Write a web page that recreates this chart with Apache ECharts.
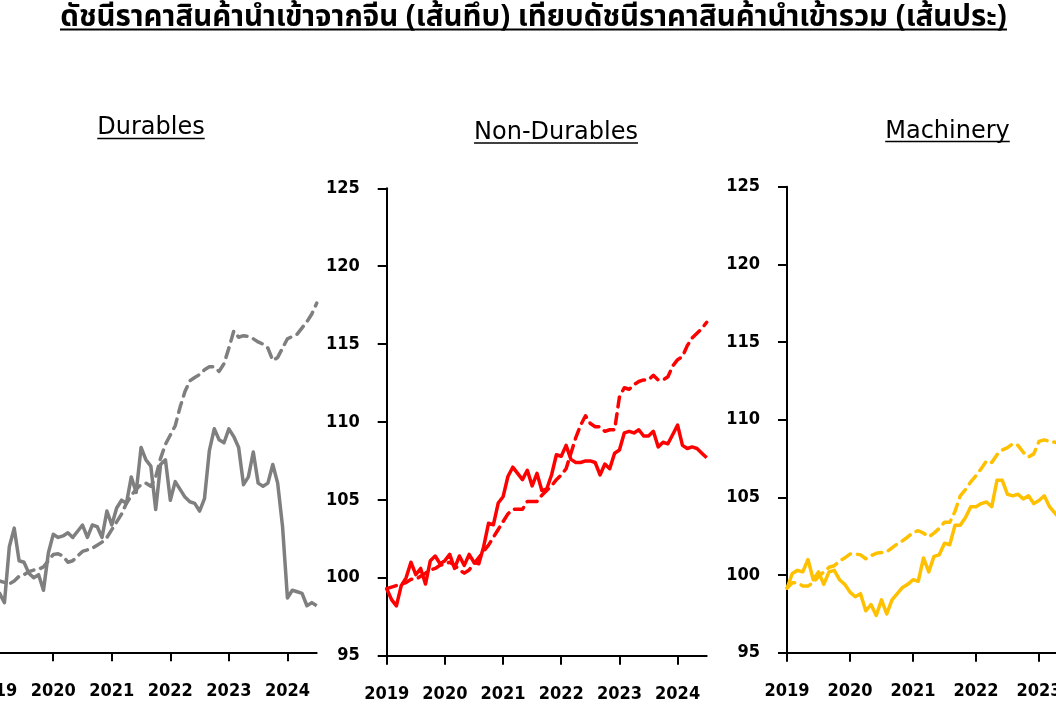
<!DOCTYPE html>
<html>
<head>
<meta charset="utf-8">
<script src="https://cdn.jsdelivr.net/npm/echarts@6/dist/echarts.min.js"></script>
<style>
html,body{margin:0;padding:0;background:#ffffff;overflow:hidden}
#chart{width:1056px;height:707px}
</style>
</head>
<body>
<div id="chart"></div>
<script>
// ---------- data ----------
const mainTitle = 'ดัชนีราคาสินค้านำเข้าจากจีน (เส้นทึบ) เทียบดัชนีราคาสินค้านำเข้ารวม (เส้นประ)';
const panelTitles = ['Durables', 'Non-Durables', 'Machinery'];
const yearLabels = ['2019', '2020', '2021', '2022', '2023', '2024'];
const monthsPerYear = 12;
const monthCount = 67; // Jan 2019 .. Jul 2024
const yMin = 95, yMax = 125, yStep = 5;

// solid = imports from China, dashed = total imports
const durablesChina = [98.5, 98.8, 98.2, 101.8, 103.0, 100.9, 100.8, 100.1, 99.8, 100.0,
  99.0, 101.4, 102.6, 102.4, 102.5, 102.7, 102.4, 102.8, 103.2, 102.4,
  103.2, 103.1, 102.4, 104.1, 103.2, 104.3, 104.8, 104.6, 106.3, 105.3,
  108.2, 107.4, 107.0, 104.2, 107.1, 107.4, 104.8, 106.0, 105.5, 105.0,
  104.7, 104.6, 104.1, 104.9, 108.0, 109.4, 108.7, 108.5, 109.4, 108.9,
  108.2, 105.8, 106.3, 107.9, 105.9, 105.7, 105.9, 107.1, 105.9, 103.1,
  98.5, 99.0, 98.9, 98.8, 98.0, 98.2, 98.0];
const durablesTotal = [99.5, 99.6, 99.5, 99.4, 99.6, 99.9, 100.0, 100.2, 100.3, 100.35,
  100.5, 100.9, 101.3, 101.35, 101.2, 100.8, 100.9, 101.2, 101.5, 101.6,
  101.7, 101.9, 102.1, 102.4, 102.9, 103.4, 103.9, 104.6, 105.1, 105.5,
  105.8, 105.9, 105.7, 106.3, 107.5, 108.4, 109.0, 109.6, 110.8, 111.8,
  112.5, 112.7, 112.9, 113.2, 113.4, 113.4, 113.1, 113.6, 114.6, 115.7,
  115.3, 115.4, 115.35, 115.2, 115.0, 114.85, 114.6, 113.8, 114.0, 114.6,
  115.2, 115.35, 115.5, 115.9, 116.3, 116.8, 117.5];
const nonDurablesChina = [99.3, 98.6, 98.2, 99.5, 100.0, 101.0, 100.2, 100.6, 99.6, 101.1,
  101.4, 100.9, 101.1, 101.5, 100.6, 101.4, 100.8, 101.5, 101.0, 100.9,
  102.0, 103.5, 103.4, 104.8, 105.2, 106.5, 107.1, 106.7, 106.3, 106.9,
  105.9, 106.7, 105.6, 105.7, 106.6, 107.9, 107.8, 108.5, 107.6, 107.4,
  107.4, 107.5, 107.5, 107.4, 106.6, 107.3, 107.0, 108.0, 108.2, 109.3,
  109.4, 109.3, 109.5, 109.1, 109.1, 109.4, 108.4, 108.7, 108.6, 109.2,
  109.8, 108.5, 108.3, 108.4, 108.3, 108.0, 107.7];
const nonDurablesTotal = [99.3, 99.4, 99.5, 99.6, 99.7, 99.9, 99.9, 100.1, 100.3, 100.5,
  100.6, 100.8, 100.9, 101.0, 100.8, 100.5, 100.3, 100.5, 100.9, 101.3,
  101.7, 102.1, 102.6, 103.1, 103.6, 104.1, 104.4, 104.4, 104.4, 104.9,
  104.9, 104.9, 105.3, 105.6, 105.9, 106.3, 106.6, 107.0, 108.0, 109.0,
  109.8, 110.4, 109.9, 109.7, 109.7, 109.4, 109.5, 109.5, 111.6, 112.2,
  112.1, 112.4, 112.6, 112.7, 112.7, 113.0, 112.7, 112.7, 112.9, 113.6,
  114.0, 114.2, 114.9, 115.4, 115.7, 116.0, 116.4];
const machineryChina = [99.15, 100.1, 100.3, 100.2, 101.0, 99.7, 100.2, 99.4, 100.2, 100.3,
  99.7, 99.4, 98.9, 98.6, 98.8, 97.7, 98.1, 97.4, 98.4, 97.5,
  98.4, 98.8, 99.2, 99.4, 99.7, 99.6, 101.1, 100.2, 101.2, 101.3,
  102.05, 101.95, 103.2, 103.2, 103.7, 104.4, 104.4, 104.6, 104.7, 104.4,
  106.1, 106.1, 105.2, 105.1, 105.2, 104.9, 105.1, 104.6, 104.8, 105.1,
  104.4, 104.0, 103.6];
const machineryTotal = [99.15, 99.5, 99.5, 99.3, 99.3, 99.5, 99.9, 100.2, 100.5, 100.6,
  100.9, 101.1, 101.35, 101.35, 101.3, 101.05, 101.25, 101.4, 101.45, 101.5,
  101.75, 102.0, 102.2, 102.45, 102.75, 102.85, 102.7, 102.45, 102.7, 103.0,
  103.4, 103.4, 104.1, 105.1, 105.5, 106.0, 106.4, 106.85, 107.35, 107.25,
  107.75, 108.05, 108.2, 108.45, 108.35, 107.9, 107.6, 107.8, 108.6, 108.7,
  108.6, 108.55, 108.5];

// ---------- layout / styles ----------
const categories = [];
for (let i = 0; i < monthCount; i++) {
  const y = 2019 + Math.floor(i / monthsPerYear);
  const m = (i % monthsPerYear) + 1;
  categories.push(y + '-' + (m < 10 ? '0' + m : m));
}
const panels = [
  { title: panelTitles[0], china: durablesChina, total: durablesTotal, color: '#7f7f7f',
    grid: { left: -5.3, top: 186.7, width: 322, height: 465.6 },
    titleX: 151, titleBase: 135, ulY: 138.5 },
  { title: panelTitles[1], china: nonDurablesChina, total: nonDurablesTotal, color: '#ff0000',
    grid: { left: 386.7, top: 188.3, width: 320, height: 467.4 },
    titleX: 556, titleBase: 139.5, ulY: 143 },
  { title: panelTitles[2], china: machineryChina, total: machineryTotal, color: '#ffc000',
    grid: { left: 787, top: 186.7, width: 346.5, height: 466 },
    titleX: 947.5, titleBase: 138.3, ulY: 141.5 }
];

const latinFamily = "'DejaVu Sans', Verdana, sans-serif";
const tickFamily = "'DejaVu Sans Condensed', 'DejaVu Sans', sans-serif";
const thaiFamily = "'Noto Sans Thai', 'Noto Sans Thai UI', 'Noto Sans', 'DejaVu Sans', sans-serif";
const measureCtx = document.createElement('canvas').getContext('2d');
function textWidth(text, font) { measureCtx.font = font; return measureCtx.measureText(text).width; }

const isYearStart = (idx) => idx % monthsPerYear === 0;
const axisColor = '#000000';

const grids = [], xAxes = [], yAxes = [], series = [], graphics = [];
panels.forEach((p, k) => {
  grids.push(Object.assign({ containLabel: false, outerBoundsMode: 'none' }, p.grid));
  xAxes.push({
    type: 'category', gridIndex: k, data: categories, boundaryGap: false,
    axisLine: { show: true, onZero: false, lineStyle: { color: axisColor, width: 2 } },
    axisTick: { show: true, inside: false, length: 9, interval: isYearStart,
      lineStyle: { color: axisColor, width: 2 } },
    axisLabel: { show: true, interval: isYearStart, margin: 30, fontSize: 18,
      fontFamily: tickFamily, fontWeight: 'bold', color: '#000',
      formatter: (v, idx) => yearLabels[Math.floor(idx / monthsPerYear)] },
    splitLine: { show: false }
  });
  yAxes.push({
    type: 'value', gridIndex: k, min: yMin, max: yMax, interval: yStep,
    axisLine: { show: true, lineStyle: { color: axisColor, width: 2 } },
    axisTick: { show: true, inside: false, length: 9, lineStyle: { color: axisColor, width: 2 } },
    axisLabel: { show: true, margin: 27, fontSize: 18, fontFamily: tickFamily,
      fontWeight: 'bold', color: '#000' },
    splitLine: { show: false }
  });
  series.push({
    type: 'line', xAxisIndex: k, yAxisIndex: k, data: p.total, symbol: 'none',
    showSymbol: false, smooth: false, z: 2, silent: true,
    lineStyle: { color: p.color, width: 3.5, type: [10, 7], cap: 'round', join: 'round' }
  });
  series.push({
    type: 'line', xAxisIndex: k, yAxisIndex: k, data: p.china, symbol: 'none',
    showSymbol: false, smooth: false, z: 3, silent: true,
    lineStyle: { color: p.color, width: 3.5, type: 'solid', join: 'round' }
  });
  const pFont = '24px ' + latinFamily;
  const w = textWidth(p.title, pFont);
  graphics.push({
    type: 'text', x: p.titleX, y: p.titleBase - 7, z: 10,
    style: { text: p.title, font: pFont, fill: '#000', align: 'center', verticalAlign: 'middle' }
  });
  graphics.push({
    type: 'line', z: 10,
    shape: { x1: p.titleX - w / 2, y1: p.ulY, x2: p.titleX + w / 2, y2: p.ulY },
    style: { stroke: '#000', lineWidth: 1.5 }
  });
});

// main title fitted to the reference width
const titleLeft = 60, titleRight = 1007;
const baseSize = 30;
const mW = textWidth(mainTitle, 'bold ' + baseSize + 'px ' + thaiFamily);
const tSize = baseSize * (titleRight - titleLeft) / mW;
const tFont = 'bold ' + tSize.toFixed(2) + 'px ' + thaiFamily;
graphics.push({
  type: 'text', x: (titleLeft + titleRight) / 2, y: 29 - 0.3 * tSize, z: 10,
  style: { text: mainTitle, font: tFont, fill: '#000', align: 'center', verticalAlign: 'middle' }
});
graphics.push({
  type: 'line', z: 10,
  shape: { x1: titleLeft, y1: 29.5, x2: titleRight, y2: 29.5 },
  style: { stroke: '#000', lineWidth: 2 }
});

const chart = echarts.init(document.getElementById('chart'), null, { renderer: 'canvas' });
chart.setOption({
  backgroundColor: '#ffffff',
  animation: false,
  grid: grids,
  xAxis: xAxes,
  yAxis: yAxes,
  series: series,
  graphic: graphics
});
</script>
</body>
</html>
